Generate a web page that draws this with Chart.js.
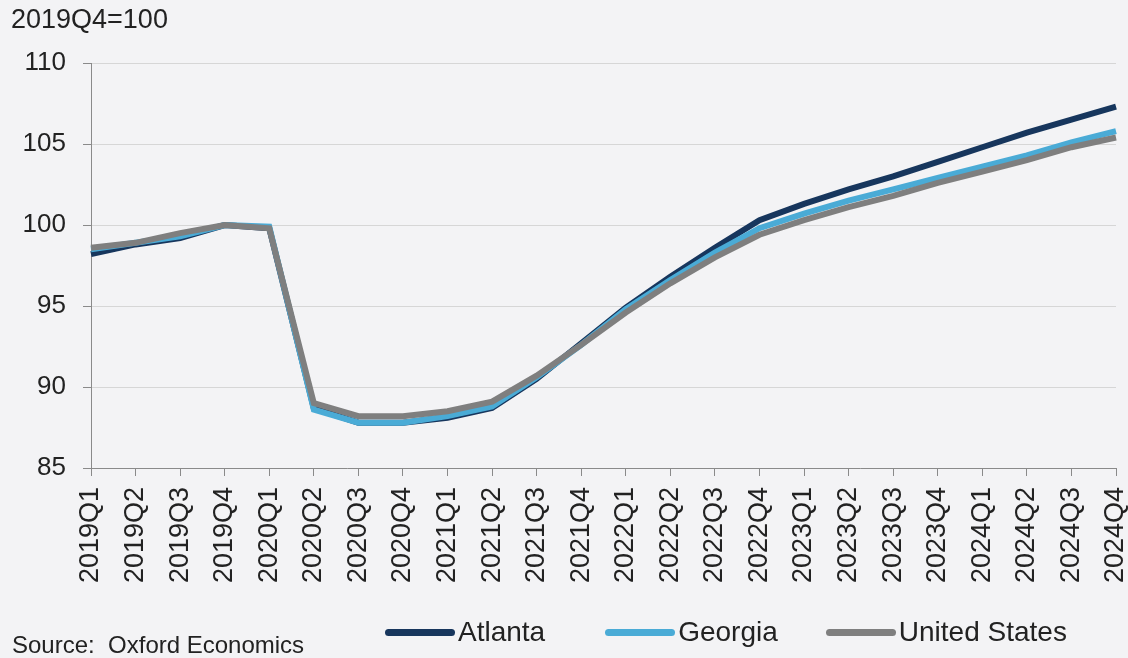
<!DOCTYPE html>
<html>
<head>
<meta charset="utf-8">
<script src="https://cdn.jsdelivr.net/npm/chart.js@4"></script>
<style>
  html, body { margin: 0; padding: 0; }
  body { width: 1128px; height: 658px; position: relative; overflow: hidden;
    background: #f3f3f5; font-family: "Liberation Sans", Arial, sans-serif; }
  #wrap { position: absolute; left: 0; top: 0; width: 1128px; height: 658px; }
  #title { position: absolute; left: 11px; top: 4px; font-size: 27px; color: #222; }
  #source { position: absolute; left: 12px; top: 631px; font-size: 24px; color: #222; }
  #legend { position: absolute; left: 385px; top: 615px; height: 34px; display: flex; align-items: center; }
  .item { display: flex; align-items: center; font-size: 28px; color: #222; }
  .swatch { width: 70px; height: 7px; border-radius: 3.5px; margin-right: 3px; }
</style>
</head>
<body>
<div id="wrap"><canvas id="c" width="1128" height="658"></canvas></div>
<div id="title">2019Q4=100</div>
<div id="source">Source:&nbsp; Oxford Economics</div>
<div id="legend"></div>
<script>
const categories = ["2019Q1","2019Q2","2019Q3","2019Q4","2020Q1","2020Q2","2020Q3","2020Q4",
  "2021Q1","2021Q2","2021Q3","2021Q4","2022Q1","2022Q2","2022Q3","2022Q4",
  "2023Q1","2023Q2","2023Q3","2023Q4","2024Q1","2024Q2","2024Q3","2024Q4"];
const atlanta = [98.2, 98.8, 99.2, 100.0, 99.8, 88.7, 87.8, 87.8, 88.1, 88.7, 90.5, 92.7,
  94.9, 96.8, 98.6, 100.3, 101.3, 102.2, 103.0, 103.9, 104.8, 105.7, 106.5, 107.3];
const georgia = [98.5, 98.9, 99.3, 100.0, 99.9, 88.6, 87.8, 87.8, 88.2, 88.8, 90.6, 92.6,
  94.8, 96.6, 98.3, 99.8, 100.7, 101.5, 102.2, 102.9, 103.6, 104.3, 105.1, 105.8];
const unitedStates = [98.6, 98.9, 99.5, 100.0, 99.8, 89.0, 88.2, 88.2, 88.5, 89.1, 90.7, 92.6,
  94.6, 96.4, 98.0, 99.4, 100.3, 101.1, 101.8, 102.6, 103.3, 104.0, 104.8, 105.4];
const yTicks = [85, 90, 95, 100, 105, 110];
const seriesNames = ["Atlanta", "Georgia", "United States"];
const seriesColors = ["#17365d", "#4aabd6", "#7f7f7f"];

const FONT = "'Liberation Sans', Arial, sans-serif";
const values = [atlanta, georgia, unitedStates];

const chart = new Chart(document.getElementById('c'), {
  type: 'line',
  data: {
    labels: categories,
    datasets: values.map((v, i) => ({
      label: seriesNames[i],
      data: v,
      borderColor: seriesColors[i],
      backgroundColor: seriesColors[i],
      borderWidth: 6,
      pointRadius: 0,
      tension: 0,
      order: 3 - i
    }))
  },
  options: {
    responsive: false,
    animation: false,
    devicePixelRatio: 1,
    layout: { padding: { left: 0, right: 12, top: 63, bottom: 68 } },
    plugins: {
      tooltip: { enabled: false },
      legend: { display: false }
    },
    scales: {
      x: {
        offset: false,
        border: { color: '#8a8a8a', width: 1 },
        grid: { drawOnChartArea: false, color: '#8a8a8a', tickLength: 8 },
        ticks: {
          autoSkip: false, minRotation: 90, maxRotation: 90,
          padding: 11, color: '#222',
          font: { family: FONT, size: 27 }
        },
        afterFit: (s) => { s.height = 122; s.paddingLeft = 0; s.paddingRight = 0; }
      },
      y: {
        min: 85, max: 110,
        afterBuildTicks: (s) => { s.ticks = yTicks.map(v => ({ value: v })); },
        border: { color: '#8a8a8a', width: 1 },
        grid: { color: '#d6d6d6', tickLength: 8, tickColor: '#8a8a8a' },
        ticks: { padding: 17, color: '#222', font: { family: FONT, size: 26 } },
        afterFit: (s) => { s.width = 91; s.paddingTop = 0; s.paddingBottom = 0; }
      }
    }
  }
});

// Legend built from the chart's own datasets
const legend = document.getElementById('legend');
const gaps = [0, 60, 48];
chart.data.datasets.forEach((ds, i) => {
  const item = document.createElement('div');
  item.className = 'item';
  item.style.marginLeft = gaps[i] + 'px';
  const sw = document.createElement('span');
  sw.className = 'swatch';
  sw.style.background = ds.borderColor;
  const tx = document.createElement('span');
  tx.textContent = ds.label;
  item.appendChild(sw);
  item.appendChild(tx);
  legend.appendChild(item);
});
</script>
</body>
</html>
